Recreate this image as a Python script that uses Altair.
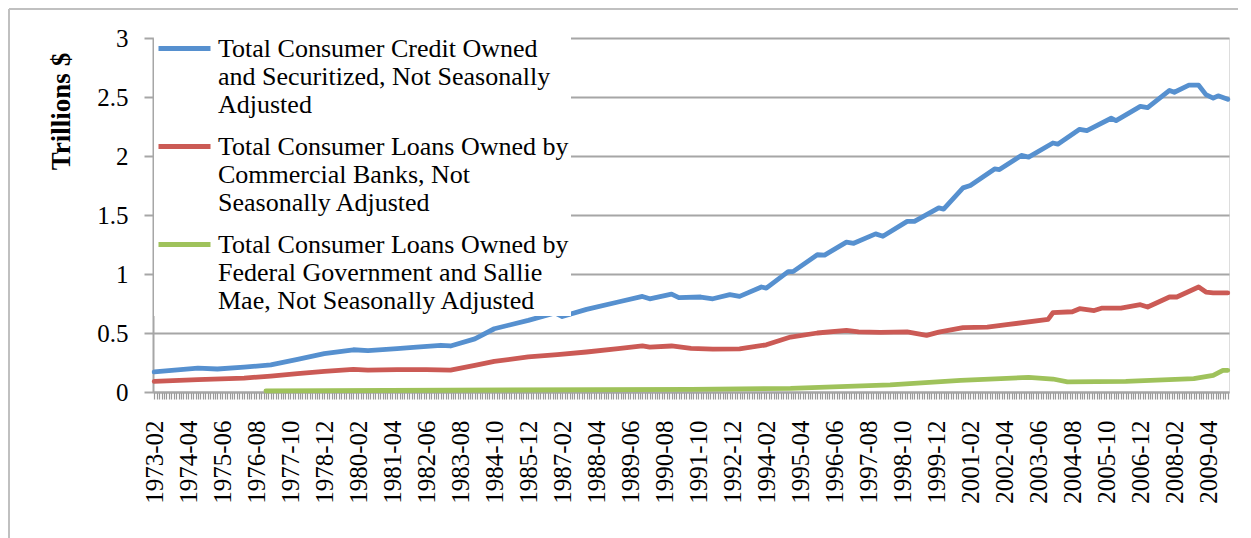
import altair as alt
import pandas as pd

# ---- category axis: monthly, 1973-02 .. 2009-12 ----
months = [f"{y}-{m:02d}" for y in range(1973, 2010) for m in range(1, 13)
          if not (y == 1973 and m == 1)]

# ---- series names (legend text) ----
name_total = "Total Consumer Credit Owned\nand Securitized, Not Seasonally\nAdjusted"
name_banks = "Total Consumer Loans Owned by\nCommercial Banks, Not\nSeasonally Adjusted"
name_fed = "Total Consumer Loans Owned by\nFederal Government and Sallie\nMae, Not Seasonally Adjusted"

# ---- values (trillions $) ----
total_months = ["1973-02", "1974-08", "1975-04", "1976-03", "1977-02", "1978-01", "1978-12",
                "1979-12", "1980-06", "1981-06", "1982-02", "1982-12", "1983-04", "1984-02",
                "1984-10", "1985-12", "1986-11", "1987-02", "1987-12", "1989-01", "1989-11",
                "1990-02", "1990-11", "1991-02", "1991-11", "1992-04", "1992-11", "1993-03",
                "1993-12", "1994-02", "1994-11", "1995-01", "1995-11", "1996-02", "1996-11",
                "1997-02", "1997-11", "1998-02", "1998-12", "1999-03", "2000-01", "2000-03",
                "2000-11", "2001-02", "2001-07", "2001-12", "2002-02", "2002-11", "2003-02",
                "2003-12", "2004-02", "2004-11", "2005-02", "2005-12", "2006-02", "2006-12",
                "2007-03", "2007-12", "2008-02", "2008-08", "2008-12", "2009-03", "2009-06",
                "2009-08", "2009-12"]
total_values = [0.17, 0.203, 0.195, 0.21, 0.23, 0.277, 0.325,
                0.358, 0.35, 0.367, 0.38, 0.396, 0.39, 0.45,
                0.536, 0.607, 0.67, 0.64, 0.70, 0.763, 0.81,
                0.79, 0.83, 0.80, 0.805, 0.79, 0.825, 0.81,
                0.89, 0.88, 1.02, 1.02, 1.163, 1.16, 1.27,
                1.26, 1.34, 1.32, 1.446, 1.446, 1.56, 1.55,
                1.73, 1.75, 1.82, 1.89, 1.885, 2.005, 1.99,
                2.11, 2.10, 2.226, 2.215, 2.32, 2.30, 2.42,
                2.41, 2.556, 2.54, 2.60, 2.60, 2.52, 2.49,
                2.51, 2.48]

banks_months = ["1973-02", "1974-08", "1976-03", "1977-02", "1978-01", "1978-12", "1979-12",
                "1980-06", "1981-06", "1982-06", "1983-04", "1984-02", "1984-10", "1985-12",
                "1986-12", "1987-12", "1989-01", "1989-11", "1990-02", "1990-11", "1991-07",
                "1992-04", "1993-03", "1994-02", "1994-12", "1995-11", "1996-11", "1997-04",
                "1998-01", "1998-12", "1999-08", "2000-01", "2000-11", "2001-09", "2002-05",
                "2003-10", "2003-12", "2004-08", "2004-11", "2005-05", "2005-08", "2006-04",
                "2006-12", "2007-03", "2007-12", "2008-03", "2008-12", "2009-03", "2009-06",
                "2009-12"]
banks_values = [0.09, 0.105, 0.118, 0.135, 0.155, 0.175, 0.192,
                0.185, 0.19, 0.19, 0.186, 0.226, 0.26, 0.297,
                0.316, 0.339, 0.367, 0.39, 0.38, 0.39, 0.37,
                0.363, 0.365, 0.40, 0.466, 0.50, 0.523, 0.51,
                0.505, 0.51, 0.48, 0.507, 0.545, 0.55, 0.57,
                0.616, 0.672, 0.68, 0.706, 0.69, 0.71, 0.71,
                0.74, 0.72, 0.805, 0.805, 0.89, 0.847, 0.84,
                0.84]

fed_months = ["1976-12", "1983-04", "1991-07", "1994-12", "1998-05", "2000-10", "2003-02",
              "2003-12", "2004-06", "2006-06", "2008-10", "2009-06", "2009-10", "2009-12"]
fed_values = [0.01, 0.015, 0.023, 0.03, 0.06, 0.099, 0.124,
              0.11, 0.085, 0.09, 0.113, 0.14, 0.184, 0.184]

series_names = [name_total, name_banks, name_fed]
series_colors = ["#5690CF", "#CB5A55", "#9FC25B"]
y_ticks = [0, 0.5, 1, 1.5, 2, 2.5, 3]

rows = []
for nm, ms, vs in [(name_total, total_months, total_values),
                   (name_banks, banks_months, banks_values),
                   (name_fed, fed_months, fed_values)]:
    for m, v in zip(ms, vs):
        rows.append({"month": m, "value": v, "series": nm})
df = pd.DataFrame(rows)

FONT = "Liberation Serif"
GRAY = "#a6a6a6"

label_expr = ("((toNumber(substring(datum.label,0,4))*12 + toNumber(substring(datum.label,5,7)) - 23678) % 14 == 0)"
              " ? datum.label : ''")

lines = alt.Chart(df).mark_line(strokeWidth=4.8, strokeJoin="round", strokeCap="round").encode(
    x=alt.X("month:O",
            scale=alt.Scale(domain=months, padding=0.5),
            axis=alt.Axis(title=None, labelExpr=label_expr, labelAngle=270,
                          labelAlign="right", labelBaseline="middle",
                          labelFont=FONT, labelFontSize=25, labelColor="black",
                          labelOverlap=False, labelPadding=21,
                          tickColor="#999999", tickSize=7, tickWidth=1.2,
                          domainColor=GRAY, domainWidth=2, grid=False)),
    y=alt.Y("value:Q",
            scale=alt.Scale(domain=[0, 3], nice=False),
            axis=alt.Axis(values=y_ticks, format="~g", title="Trillions $",
                          titleFont=FONT, titleFontSize=27, titleFontWeight="bold",
                          titleAngle=270, titleX=-92, titleY=73, titleAlign="center",
                          titleBaseline="middle", titleColor="black",
                          labelFont=FONT, labelFontSize=25, labelColor="black",
                          labelPadding=16, tickColor=GRAY, tickSize=9, tickWidth=2,
                          domainColor=GRAY, domainWidth=2,
                          gridColor=GRAY, gridWidth=2)),
    color=alt.Color("series:N", title=None,
                    scale=alt.Scale(domain=series_names, range=series_colors),
                    legend=alt.Legend(orient="none", legendX=1, legendY=-20,
                                      fillColor="white", padding=2,
                                      symbolType="stroke", symbolSize=2704,
                                      symbolStrokeWidth=4.8, labelFont=FONT,
                                      labelFontSize=26, labelColor="black",
                                      labelLimit=600, labelOffset=5,
                                      labelExpr="split(datum.label, '\\n')",
                                      rowPadding=0)),
)

frame_df = pd.DataFrame({"k": [0]})
frame_left = alt.Chart(frame_df).mark_rule(color="#c0c0c0", strokeWidth=2).encode(
    x=alt.value(-144), y=alt.value(-29), y2=alt.value(500))
frame_top = alt.Chart(frame_df).mark_rule(color="#c0c0c0", strokeWidth=2).encode(
    x=alt.value(-144), x2=alt.value(1085), y=alt.value(-29))

chart = alt.layer(frame_left, frame_top, lines).properties(
    width=1076, height=354, padding=0, background="white"
).configure_view(strokeWidth=0).configure(
    style={"guide-label": {"lineHeight": 28}}
)

chart.save("out.html", embed_options={"renderer": "svg", "actions": False})
